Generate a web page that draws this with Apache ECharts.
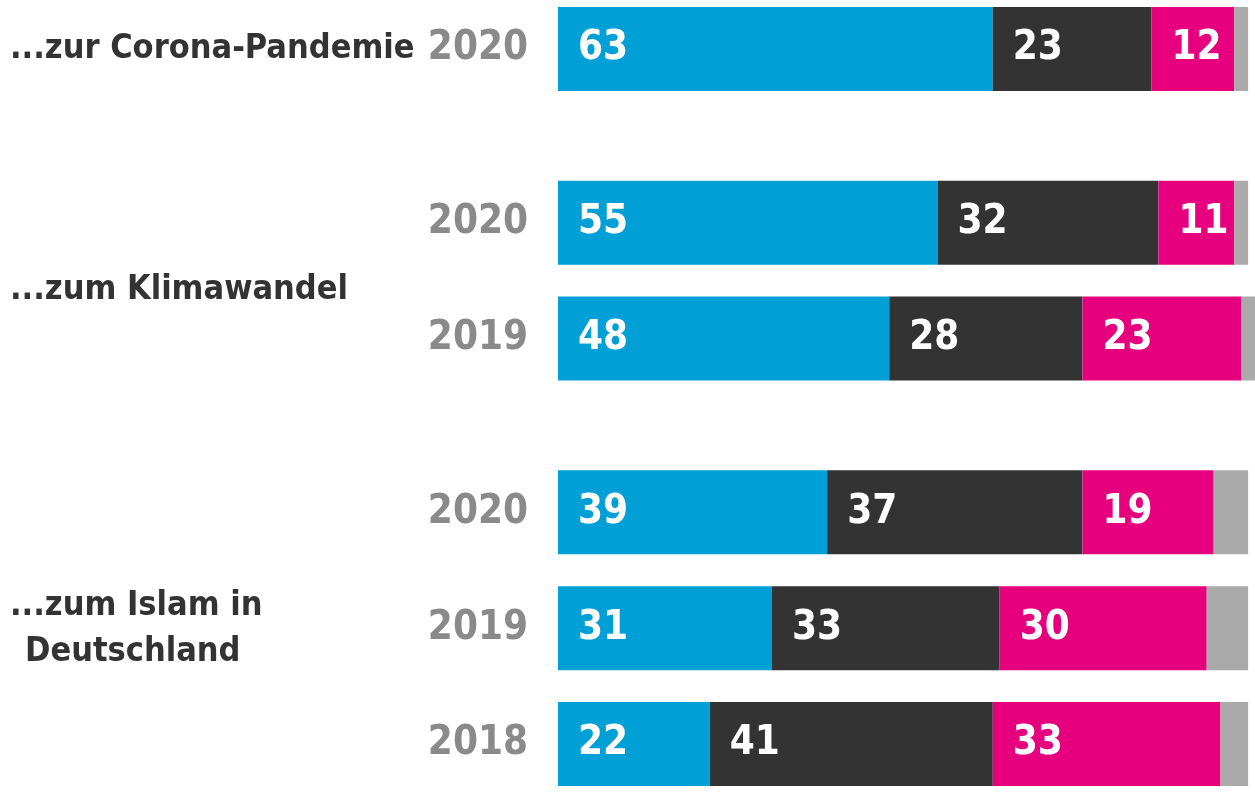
<!DOCTYPE html>
<html>
<head>
<meta charset="utf-8">
<script src="https://cdn.jsdelivr.net/npm/echarts@6/dist/echarts.min.js"></script>
<style>
  html, body { margin: 0; padding: 0; background: #fff; }
  #chart { width: 1255px; height: 792px; }
</style>
</head>
<body>
<div id="chart"></div>
<script>
// Kategorien (leere Einträge = Abstand zwischen den Gruppen)
var years = ['2020', '', '', '2020', '', '2019', '', '', '2020', '', '2019', '', '2018'];
var blueVals    = [63, null, null, 55, null, 48, null, null, 39, null, 31, null, 22];
var darkVals    = [23, null, null, 32, null, 28, null, null, 37, null, 33, null, 41];
var magentaVals = [12, null, null, 11, null, 23, null, null, 19, null, 30, null, 33];
var grayVals    = [2, null, null, 2, null, 2, null, null, 5, null, 6, null, 4];
var groupLabels = ['...zur Corona-Pandemie', '...zum Klimawandel', '...zum Islam in', 'Deutschland'];

var FONT = '"Liberation Sans Narrow", "DejaVu Sans Condensed", sans-serif';

function drawChart() {
    var dom = document.getElementById('chart');
    var myChart = echarts.init(dom);

    function barSeries(name, data, color, showLabel) {
        return {
            name: name,
            type: 'bar',
            stack: 'total',
            data: data,
            barWidth: 84,
            clip: false,
            itemStyle: { color: color },
            label: {
                show: showLabel,
                position: 'insideLeft',
                distance: 20,
                color: '#fff',
                fontFamily: FONT,
                fontWeight: 'bold',
                fontSize: 40
            }
        };
    }

    function groupText(text, x, y) {
        return {
            type: 'text',
            x: x,
            y: y,
            style: {
                text: text,
                fill: '#333',
                font: 'bold 34px ' + FONT,
                verticalAlign: 'middle'
            }
        };
    }

    var option = {
        animation: false,
        backgroundColor: '#fff',
        grid: {
            left: 558,
            right: 0,
            top: 20,
            bottom: 19
        },
        xAxis: {
            type: 'value',
            min: 0,
            max: 101,
            show: false
        },
        yAxis: {
            type: 'category',
            inverse: true,
            data: years,
            axisLine: { show: false },
            axisTick: { show: false },
            splitLine: { show: false },
            axisLabel: {
                interval: 0,
                margin: 30,
                color: '#8a8a8a',
                fontFamily: FONT,
                fontWeight: 'bold',
                fontSize: 40
            }
        },
        graphic: [
            groupText(groupLabels[0], 10, 49),
            groupText(groupLabels[1], 10, 290),
            groupText(groupLabels[2], 10, 606),
            groupText(groupLabels[3], 25, 652)
        ],
        series: [
            barSeries('blau', blueVals, '#00a0d6', true),
            barSeries('dunkel', darkVals, '#333333', true),
            barSeries('magenta', magentaVals, '#e6007e', true),
            barSeries('grau', grayVals, '#aaaaaa', false)
        ]
    };
    myChart.setOption(option, true);
    window.addEventListener('resize', function () {
        myChart.resize();
    });
}
drawChart();
</script>
</body>
</html>
